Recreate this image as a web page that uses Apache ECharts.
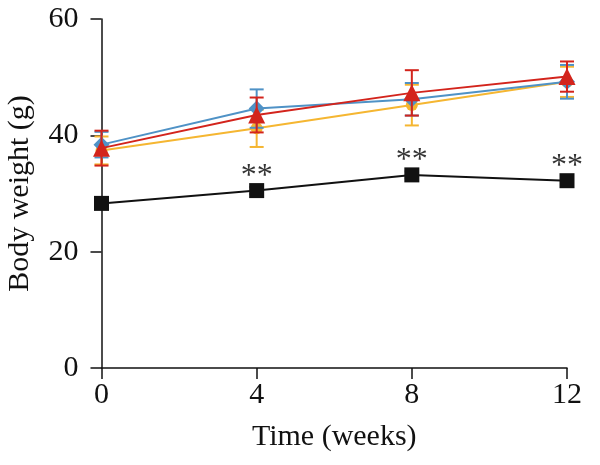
<!DOCTYPE html>
<html><head><meta charset="utf-8">
<script src="https://cdn.jsdelivr.net/npm/echarts@6/dist/echarts.min.js"></script>
<style>html,body{margin:0;padding:0;background:#fff}#c{width:600px;height:465px}</style>
</head><body><div id="c"></div>
<script>
const weeks = [0, 4, 8, 12];
const xTicks = [0, 4, 8, 12];
const yTicks = [0, 20, 40, 60];
const ctrlMean = [28.3, 30.5, 33.2, 32.2];
const ctrlSd = [0.6, 0.6, 0.6, 0.6];
const yellowMean = [37.4, 41.2, 45.2, 49.2];
const yellowSd = [2.4, 3.2, 3.5, 2.6];
const blueMean = [38.4, 44.6, 46.2, 49.2];
const blueSd = [2.2, 3.3, 2.8, 2.9];
const redMean = [37.8, 43.5, 47.3, 50.1];
const redSd = [3.0, 3.0, 3.9, 2.6];
const sigWeeks = [4, 8, 12];
const sigValues = [30.5, 33.2, 32.2];
const sigLabel = '**';

const FONT = 'Liberation Serif';
const INK = '#111111';
const chart = echarts.init(document.getElementById('c'));

function errSeries(mean, sd, color, z) {
  return {
    type: 'custom', z: z,
    data: weeks.map((w, i) => [w, mean[i] - sd[i], mean[i] + sd[i]]),
    renderItem: function (params, api) {
      const lo = api.coord([api.value(0), api.value(1)]);
      const hi = api.coord([api.value(0), api.value(2)]);
      const hw = 7;
      const st = { stroke: color, lineWidth: 2 };
      return { type: 'group', children: [
        { type: 'line', shape: { x1: lo[0], y1: lo[1], x2: hi[0], y2: hi[1] }, style: st },
        { type: 'line', shape: { x1: lo[0] - hw, y1: lo[1], x2: lo[0] + hw, y2: lo[1] }, style: st },
        { type: 'line', shape: { x1: hi[0] - hw, y1: hi[1], x2: hi[0] + hw, y2: hi[1] }, style: st }
      ]};
    }
  };
}
function lineSeries(mean, color, symbol, size, z) {
  return {
    type: 'line', z: z, data: weeks.map((w, i) => [w, mean[i]]),
    symbol: symbol, symbolSize: size, showSymbol: true,
    lineStyle: { color: color, width: 2 },
    itemStyle: { color: color, borderWidth: 0 },
    emphasis: { disabled: true }, animation: false
  };
}

chart.setOption({
  animation: false,
  grid: { left: 101.5, right: 33, top: 19, bottom: 97, containLabel: false, outerBoundsMode: 'none' },
  xAxis: {
    type: 'value', min: 0, max: 12, interval: 4,
    name: 'Time (weeks)', nameLocation: 'middle', nameGap: 54,
    nameTextStyle: { fontFamily: FONT, fontSize: 30, color: INK },
    axisLine: { show: true, onZero: false, lineStyle: { color: INK, width: 1.5 } },
    axisTick: { show: true, length: 11, lineStyle: { color: INK, width: 1.5 } },
    axisLabel: { fontFamily: FONT, fontSize: 30, color: INK, margin: 12,
      formatter: v => xTicks.includes(v) ? String(v) : '' },
    splitLine: { show: false }
  },
  yAxis: {
    type: 'value', min: 0, max: 60, interval: 20,
    name: 'Body weight (g)', nameLocation: 'middle', nameGap: 66,
    nameTextStyle: { fontFamily: FONT, fontSize: 30, color: INK },
    axisLine: { show: true, onZero: false, lineStyle: { color: INK, width: 1.5 } },
    axisTick: { show: true, length: 11, lineStyle: { color: INK, width: 1.5 } },
    axisLabel: { fontFamily: FONT, fontSize: 30, color: INK, margin: 23,
      formatter: v => yTicks.includes(v) ? String(v) : '' },
    splitLine: { show: false }
  },
  series: [
    errSeries(ctrlMean, ctrlSd, '#111111', 2),
    lineSeries(ctrlMean, '#111111', 'rect', 15, 3),
    errSeries(yellowMean, yellowSd, '#f5b631', 4),
    lineSeries(yellowMean, '#f5b631', 'circle', 12, 5),
    errSeries(blueMean, blueSd, '#4f92c6', 6),
    lineSeries(blueMean, '#4f92c6', 'diamond', 16, 7),
    errSeries(redMean, redSd, '#d3241c', 8),
    lineSeries(redMean, '#d3241c', 'triangle', 17, 9),
    {
      type: 'scatter', z: 10, symbolSize: 0,
      data: sigWeeks.map((w, i) => [w, sigValues[i]]),
      label: { show: true, position: 'top', distance: -2, formatter: sigLabel,
        fontFamily: FONT, fontSize: 32, color: '#000' },
      emphasis: { disabled: true }
    }
  ]
});
</script></body></html>
